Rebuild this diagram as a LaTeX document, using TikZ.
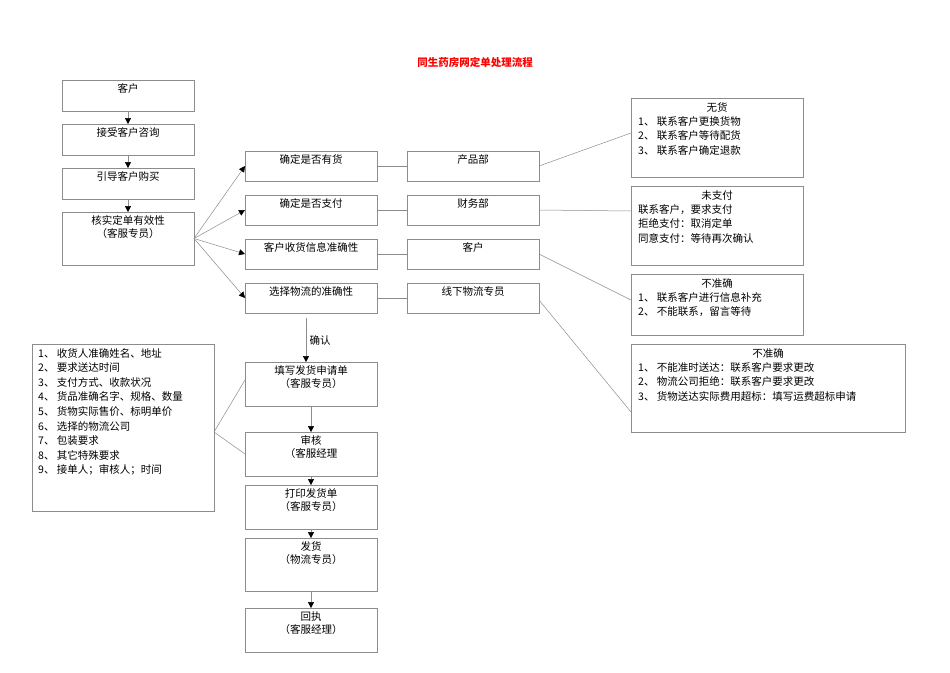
\documentclass[tikz,border=0pt]{standalone}
\usepackage{fontspec}
\setmainfont{Noto Sans CJK SC}
\usetikzlibrary{arrows.meta}
\begin{document}
\begin{tikzpicture}[x=1pt,y=-1pt,
 bx/.style={draw=black!45,line width=0.6pt},
 tx/.style={font=\fontsize{10.5}{13.5}\selectfont,align=center,anchor=north,inner sep=2pt},
 lt/.style={font=\fontsize{10.5}{14.6}\selectfont,align=left,anchor=north west,inner sep=2pt},
 ln/.style={draw=black!45,line width=0.5pt},
 ar/.style={ln,-{Triangle[length=6pt,width=6pt,fill=black,color=black]}}]
\useasboundingbox (0,0) rectangle (950,672);
\node[font=\fontsize{10.5}{12}\selectfont\bfseries,text=red] (title) at (475,63) {同生药房网定单处理流程};
\newcommand{\bxn}[6]{\draw[bx] (#2,#3) rectangle (#4,#5); \node[tx] (#1) at ({(#2+#4)/2},#3+1) {#6};
 \coordinate (#1W) at (#2,{(#3+#5)/2}); \coordinate (#1E) at (#4,{(#3+#5)/2});
 \coordinate (#1N) at ({(#2+#4)/2},#3); \coordinate (#1S) at ({(#2+#4)/2},#5);}
\bxn{a}{62}{80}{194}{111}{客户}
\bxn{b}{62}{124}{194}{155}{接受客户咨询}
\bxn{c}{62}{168}{194}{199}{引导客户购买}
\bxn{d}{62}{212}{194}{265}{核实定单有效性\\（客服专员）}
\bxn{m1}{245}{151}{377}{181}{确定是否有货}
\bxn{m2}{245}{195}{377}{225}{确定是否支付}
\bxn{m3}{245}{239}{377}{269}{客户收货信息准确性}
\bxn{m4}{245}{283}{377}{313}{选择物流的准确性}
\bxn{r1}{407}{151}{539}{181}{产品部}
\bxn{r2}{407}{195}{539}{225}{财务部}
\bxn{r3}{407}{239}{539}{269}{客户}
\bxn{r4}{407}{283}{539}{313}{线下物流专员}
\bxn{s1}{245}{362}{377}{406}{填写发货申请单\\（客服专员）}
\bxn{s2}{245}{432}{377}{476}{审核\\（客服经理}
\bxn{s3}{245}{485}{377}{529}{打印发货单\\（客服专员）}
\bxn{s4}{245}{538}{377}{591}{发货\\（物流专员）}
\bxn{s5}{245}{608}{377}{652}{回执\\（客服经理）}
\draw[bx] (631,98) rectangle (803,177);
\node[tx] (n1) at (717,100) {无货};
\node[lt] (n1t) at (636,114) {1、 联系客户更换货物\\2、 联系客户等待配货\\3、 联系客户确定退款};
\coordinate (n1W) at (631,133);
\draw[bx] (631,186) rectangle (803,265);
\node[tx] (n2) at (717,188) {未支付};
\node[lt] (n2t) at (636,202) {联系客户，要求支付\\拒绝支付：取消定单\\同意支付：等待再次确认};
\coordinate (n2W) at (631,211);
\draw[bx] (631,274) rectangle (803,335);
\node[tx] (n3) at (717,276) {不准确};
\node[lt] (n3t) at (636,290) {1、 联系客户进行信息补充\\2、 不能联系，留言等待};
\coordinate (n3W) at (631,300);
\draw[bx] (631,344) rectangle (905,432);
\node[tx] (n4) at (768,346) {不准确};
\node[lt] (n4t) at (636,360) {1、 不能准时送达：联系客户要求更改\\2、 物流公司拒绝：联系客户要求更改\\3、 货物送达实际费用超标：填写运费超标申请};
\coordinate (n4W) at (631,412);
\draw[bx] (32,344) rectangle (214,511);
\node[lt] (lst) at (36,346) {1、 收货人准确姓名、地址\\2、 要求送达时间\\3、 支付方式、收款状况\\4、 货品准确名字、规格、数量\\5、 货物实际售价、标明单价\\6、 选择的物流公司\\7、 包装要求\\8、 其它特殊要求\\9、 接单人；审核人；时间};
\coordinate (lE) at (214,432);
\draw[ar] (aS) -- (bN); \draw[ar] (bS) -- (cN); \draw[ar] (cS) -- (dN);
\foreach \m in {m1,m2,m3,m4} \draw[ar] (dE) -- (\m W);
\draw[ln] (m1E)--(r1W); \draw[ln] (m2E)--(r2W); \draw[ln] (m3E)--(r3W); \draw[ln] (m4E)--(r4W);
\draw[ln] (r1E)--(n1W); \draw[ln] (r2E)--(n2W); \draw[ln] (r3E)--(n3W); \draw[ln] (r4E|-0,300)--(n4W);
\coordinate (cf) at (306,318); \coordinate (cfe) at (306,362);
\draw[ar] (cf) -- node[right,font=\fontsize{10.5}{12}\selectfont]{确认} (cfe);
\draw[ar] (s1S)--(s2N); \draw[ar] (s2S)--(s3N); \draw[ar] (s3S)--(s4N);
\draw[ar] (s4S)--(s5N);
\draw[ln] (lE)--(245,380); \draw[ln] (lE)--(s2W);
\end{tikzpicture}
\end{document}
